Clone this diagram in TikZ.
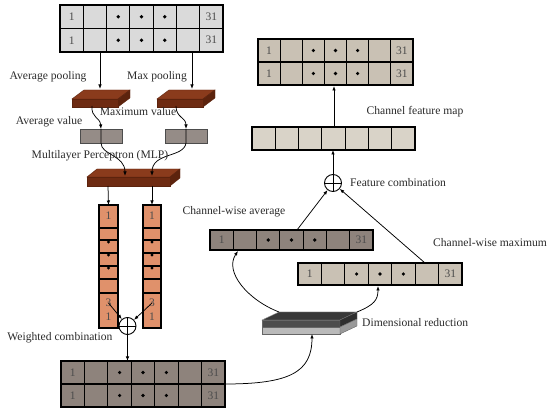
\documentclass[tikz,border=0pt]{standalone}
\usepackage{fontspec}
\setmainfont{Liberation Serif}
\usetikzlibrary{arrows.meta,calc}
\definecolor{lgray}{HTML}{DADADA}
\definecolor{dgray}{HTML}{8E837C}
\definecolor{beige}{HTML}{C9C1B4}
\definecolor{lbeige}{HTML}{D9D3C8}
\definecolor{graybox}{HTML}{958C87}
\definecolor{orng}{HTML}{E0916B}
\definecolor{brtop}{HTML}{8A3B1C}
\definecolor{brfront}{HTML}{6E2B12}
\definecolor{brside}{HTML}{5C230D}
\definecolor{txt}{HTML}{2A2A2A}
\tikzset{
 gridbox/.style={draw=black, line width=1.1pt, inner sep=0pt, outer sep=0pt},
 gridline/.style={line width=1.1pt},
 celltext/.style={font=\fontsize{11.5}{12}\selectfont, text=black!70, inner sep=0pt},
 lbl/.style={font=\fontsize{11.6}{13}\selectfont, text=txt, inner sep=0pt},
 arr/.style={-{Latex[length=4.5pt,width=3.5pt]}, line width=0.75pt},
 plainline/.style={line width=0.75pt},
 oplus/.style={circle, draw, line width=0.9pt, fill=white, minimum size=17pt, inner sep=0pt},
}
% horizontal grid: name x1 y1 x2 y2 rows fill labels
\newcommand{\hgrid}[8]{%
  \node[gridbox, fill=#7, minimum width={(#4-#2)*1pt}, minimum height={(#5-#3)*1pt}] (#1) at ({(#2+#4)/2},{(#3+#5)/2}) {};
  \foreach \i in {1,...,6} {\pgfmathsetmacro\xx{#2+\i*(#4-#2)/7} \draw[gridline] (\xx,#3) -- (\xx,#5);}
  \ifnum#6=2 \draw[gridline] (#2,{(#3+#5)/2}) -- (#4,{(#3+#5)/2});\fi
  \ifnum#8=1
    \foreach \r in {1,...,#6} {
      \pgfmathsetmacro\yy{#3+(\r-0.5)*(#5-#3)/#6}
      \pgfmathsetmacro\cw{(#4-#2)/7}
      \node[celltext] (#1-a\r) at ({#2+0.5*\cw},\yy) {1};
      \node[celltext] (#1-b\r) at ({#2+6.5*\cw},\yy) {31};
      \foreach \c in {2,3,4} \fill ({#2+(\c+0.5)*\cw},\yy) circle (1.8pt);
    }
  \fi
}
% vertical column: name x1 x2
\newcommand{\vcol}[3]{%
  \node[gridbox, fill=orng, minimum width={(#3-#2)*1pt}, minimum height=123pt] (#1) at ({(#2+#3)/2},266.5) {};
  \foreach \yy in {228,240,253,266,279,293} \draw[gridline] (#2,\yy) -- (#3,\yy);
  \node[celltext] (#1-t) at ({(#2+#3)/2},216) {1};
  \foreach \yy in {242,255,268} \fill ({(#2+#3)/2},\yy) circle (1.6pt);
  \node[celltext] (#1-3) at ({(#2+#3)/2},303) {3};
  \node[celltext] (#1-1) at ({(#2+#3)/2},317) {1};
}
% brown slab: name x1 y1 x2 y2 dx dy
\newcommand{\slab}[7]{%
  \filldraw[fill=brtop, draw=brside, line width=0.4pt] (#2,#3) -- (#4,#3) -- ({#4+#6},{#3-#7}) -- ({#2+#6},{#3-#7}) -- cycle;
  \filldraw[fill=brside, draw=brside, line width=0.4pt] (#4,#3) -- ({#4+#6},{#3-#7}) -- ({#4+#6},{#5-#7}) -- (#4,#5) -- cycle;
  \node[fill=brfront, draw=brside, line width=0.4pt, inner sep=0pt, outer sep=0pt, minimum width={(#4-#2)*1pt}, minimum height={(#5-#3)*1pt}] (#1) at ({(#2+#4)/2},{(#3+#5)/2}) {};
}
\begin{document}
\begin{tikzpicture}[x=1pt,y=-1pt]
\useasboundingbox (0,0) rectangle (550,414);

% ---------- left branch ----------
\hgrid{tl}{60}{5}{223}{52}{2}{lgray}{1}
\slab{s1}{72}{99}{118}{107}{12}{9}
\slab{s2}{157}{99}{203}{107}{12}{9}
\node[gridbox, fill=graybox, draw=black!70, line width=0.6pt, minimum width=42pt, minimum height=14pt] (av) at (101,136) {};
\node[gridbox, fill=graybox, draw=black!70, line width=0.6pt, minimum width=42pt, minimum height=14pt] (mx) at (186,136) {};
\slab{mlp}{87}{177}{170}{186}{10}{8}
\vcol{c1}{99}{118}
\vcol{c2}{143}{161}
\node[oplus] (wc) at (127.5,326) {};
\draw[line width=0.8pt] (wc.north) -- (wc.south) (wc.west) -- (wc.east);
\hgrid{bot}{61}{361}{225}{407}{2}{dgray}{1}

\coordinate (p1) at (100,52);  \coordinate (q1) at (100,89);
\coordinate (p2) at (192,52);  \coordinate (q2) at (192,89);
\coordinate (s1o) at (92,106);  \coordinate (s2o) at (176,106);
\coordinate (m1) at (125,176);  \coordinate (m2) at (152,176);
\coordinate (mo1) at (108,186); \coordinate (mo2) at (152,186);

\draw[arr] (p1) -- (q1);
\draw[arr] (p2) -- (q2);
\draw[arr] (s1o) .. controls (91,118) and (100,117) .. (av.north);
\draw[arr] (s2o) .. controls (176,118) and (186,117) .. (mx.north);
\draw[arr] (av.north) -- (av.south) .. controls (101,155) and (125,155) .. (m1);
\draw[arr] (mx.north) -- (mx.south) .. controls (184,158) and (152,152) .. (m2);
\draw[arr] (mo1) -- (c1.north);
\draw[arr] (mo2) -- (c2.north);
\draw[arr] (c1-3.center) -- (wc);
\draw[arr] (c2-3.center) -- (wc);
\draw[arr] (wc.south) -- (wc.south |- bot.north);

\node[lbl] (lap) at (48,77) {Average pooling};
\node[lbl] (lmp) at (157,77) {Max pooling};
\node[lbl] (lmv) at (138,112) {Maximum value};
\node[lbl] (lav) at (49,122) {Average value};
\node[lbl] (lmlp) at (100,156) {Multilayer Perceptron (MLP)};
\node[lbl] (lwc) at (60,338) {Weighted combination};

% ---------- dimensional reduction ----------
\filldraw[fill=black!78, draw=black!40, line width=0.4pt] (262,320) -- (340,320) -- (357,312) -- (279,312) -- cycle;
\filldraw[fill=black!70, draw=black!60, line width=0.4pt] (262,320) rectangle (340,327);
\filldraw[fill=black!27, draw=black!60, line width=0.4pt] (262,327) rectangle (340,334);
\filldraw[fill=black!82, draw=black!60, line width=0.4pt] (340,320) -- (357,312) -- (357,319) -- (340,327) -- cycle;
\filldraw[fill=black!40, draw=black!60, line width=0.4pt] (340,327) -- (357,319) -- (357,326) -- (340,334) -- cycle;
\node[inner sep=0pt, minimum width=78pt, minimum height=14pt] (dr) at (301,327) {};
\node[lbl, anchor=west] (ldr) at (362,323) {Dimensional reduction};
\coordinate (drin) at (312,334);
\coordinate (drtl) at (279,312);
\coordinate (drtr) at (357,312);
\draw[arr] (bot.east) .. controls (290,384) and (312,372) .. (drin);

% ---------- right branch ----------
\hgrid{cavg}{210}{230}{373}{250}{1}{dgray}{1}
\hgrid{cmax}{298}{263}{462}{285}{1}{beige}{1}
\hgrid{fmap}{252}{127}{415}{150}{1}{lbeige}{0}
\hgrid{tr}{258}{39}{413}{85}{2}{beige}{1}
\node[oplus] (fc) at (333,183) {};
\draw[line width=0.8pt] (fc.north) -- (fc.south) (fc.west) -- (fc.east);

\coordinate (ca) at (238,251);
\coordinate (cm) at (378,286);
\coordinate (cao) at (297,230);
\coordinate (cmo) at (425,263);
\coordinate (fmo) at (334,127);
\coordinate (tri) at (334,86);

\draw[arr] (drtl) .. controls (248,300) and (224,272) .. (ca);
\draw[arr] (drtr) .. controls (374,305) and (378,300) .. (cm);
\draw[arr] (cao) -- (fc);
\draw[arr] (cmo) -- (fc);
\draw[arr] (fc.north) -- (fc.north |- fmap.south);
\draw[arr] (fmo) -- (tri);

\node[lbl] (lcavg) at (234,212) {Channel-wise average};
\node[lbl] (lcmax) at (490,243) {Channel-wise maximum};
\node[lbl, anchor=west] (lfc) at (350,183) {Feature combination};
\node[lbl] (lfm) at (415,112) {Channel feature map};
\end{tikzpicture}
\end{document}
